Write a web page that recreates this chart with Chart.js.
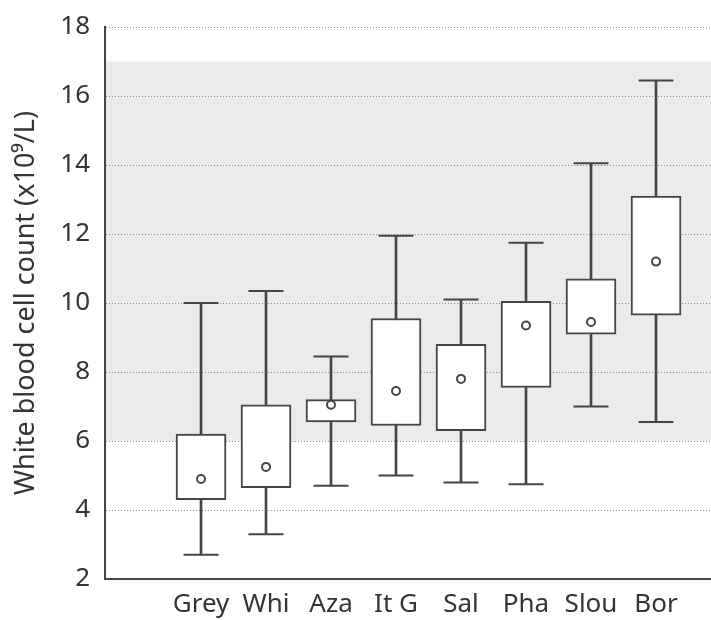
<!DOCTYPE html>
<html>
<head>
<meta charset="utf-8">
<script src="https://cdn.jsdelivr.net/npm/chart.js@4.4.0/dist/chart.umd.min.js"></script>
<style>
  html, body { margin: 0; padding: 0; background: #fff; }
  #wrap { width: 711px; height: 620px; }
</style>
</head>
<body>
<div id="wrap"><canvas id="wbcChart" width="711" height="620"></canvas></div>
<script>
const categories = ['Grey', 'Whi', 'Aza', 'It G', 'Sal', 'Pha', 'Slou', 'Bor'];
const whiskerMin = [2.7, 3.3, 4.7, 5.0, 4.8, 4.75, 7.0, 6.55];
const boxLow     = [4.3, 4.65, 6.55, 6.45, 6.3, 7.55, 9.1, 9.65];
const boxHigh    = [6.2, 7.05, 7.2, 9.55, 8.8, 10.05, 10.7, 13.1];
const whiskerMax = [10.0, 10.35, 8.45, 11.95, 10.1, 11.75, 14.05, 16.45];
const centres    = [4.9, 5.25, 7.05, 7.45, 7.8, 9.35, 9.45, 11.2];
const yTicks = [2, 4, 6, 8, 10, 12, 14, 16, 18];
const normalRange = [6, 17];

const ink = '#444449';
const textInk = '#333338';

// grey reference band behind the grid
const bandPlugin = {
    id: 'band',
    beforeDraw(chart) {
        const { ctx, chartArea, scales } = chart;
        const top = scales.y.getPixelForValue(normalRange[1]);
        const bottom = scales.y.getPixelForValue(normalRange[0]);
        ctx.save();
        ctx.fillStyle = '#ebebeb';
        ctx.fillRect(chartArea.left, top, chartArea.right - chartArea.left, bottom - top);
        ctx.restore();
    }
};

const ctx = document.getElementById('wbcChart').getContext('2d');
new Chart(ctx, {
    type: 'bar',
    data: {
        datasets: [
            {
                label: 'range',
                data: categories.map((c, i) => ({ x: i, y: [whiskerMin[i], whiskerMax[i]] })),
                backgroundColor: ink,
                borderWidth: 0,
                barThickness: 2,
                grouped: false,
                order: 3
            },
            {
                label: 'box',
                data: categories.map((c, i) => ({ x: i, y: [boxLow[i], boxHigh[i]] })),
                backgroundColor: '#ffffff',
                borderColor: ink,
                borderWidth: 2,
                borderSkipped: false,
                barThickness: 50,
                grouped: false,
                order: 2
            },
            {
                type: 'scatter',
                label: 'caps',
                data: categories.flatMap((c, i) => [{ x: i, y: whiskerMin[i] }, { x: i, y: whiskerMax[i] }]),
                pointStyle: 'line',
                pointRadius: 17.5,
                borderColor: ink,
                borderWidth: 2,
                order: 1
            },
            {
                type: 'scatter',
                label: 'centre',
                data: categories.map((c, i) => ({ x: i, y: centres[i] })),
                pointStyle: 'circle',
                pointRadius: 4,
                backgroundColor: '#ffffff',
                borderColor: ink,
                borderWidth: 2,
                order: 0
            }
        ]
    },
    options: {
        responsive: false,
        animation: false,
        layout: { autoPadding: false, padding: { top: 27, right: 0, bottom: 0, left: 0 } },
        plugins: {
            legend: { display: false },
            tooltip: { enabled: false }
        },
        scales: {
            x: {
                type: 'linear',
                offset: false,
                min: -1.477,
                max: 7.846,
                afterBuildTicks: s => { s.ticks = categories.map((c, i) => ({ value: i })); },
                afterFit: s => { s.height = 41; s.paddingLeft = 0; s.paddingRight = 0; },
                grid: { display: false, drawTicks: false, offset: false },
                border: { display: true, color: ink, width: 2 },
                ticks: {
                    callback: v => categories[v],
                    autoSkip: false,
                    maxRotation: 0,
                    padding: 10,
                    color: textInk,
                    font: { family: 'Noto Sans', size: 26 }
                }
            },
            y: {
                min: 2,
                max: 18,
                afterBuildTicks: s => { s.ticks = yTicks.map(v => ({ value: v })); },
                afterFit: s => { s.width = 105; s.paddingTop = 0; s.paddingBottom = 0; },
                grid: {
                    drawTicks: false,
                    color: c => c.tick && c.tick.value === 2 ? 'rgba(0,0,0,0)' : '#8a8a8a',
                    lineWidth: 1
                },
                border: { display: true, color: ink, width: 2, dash: [1, 2] },
                ticks: {
                    padding: 15,
                    color: textInk,
                    font: { family: 'Noto Sans', size: 26 }
                },
                title: {
                    display: true,
                    text: 'White blood cell count (x10⁹/L)',
                    color: textInk,
                    font: { family: 'Noto Sans', size: 27 },
                    padding: { top: 10, bottom: 0 }
                }
            }
        }
    },
    plugins: [bandPlugin]
});
</script>
</body>
</html>
